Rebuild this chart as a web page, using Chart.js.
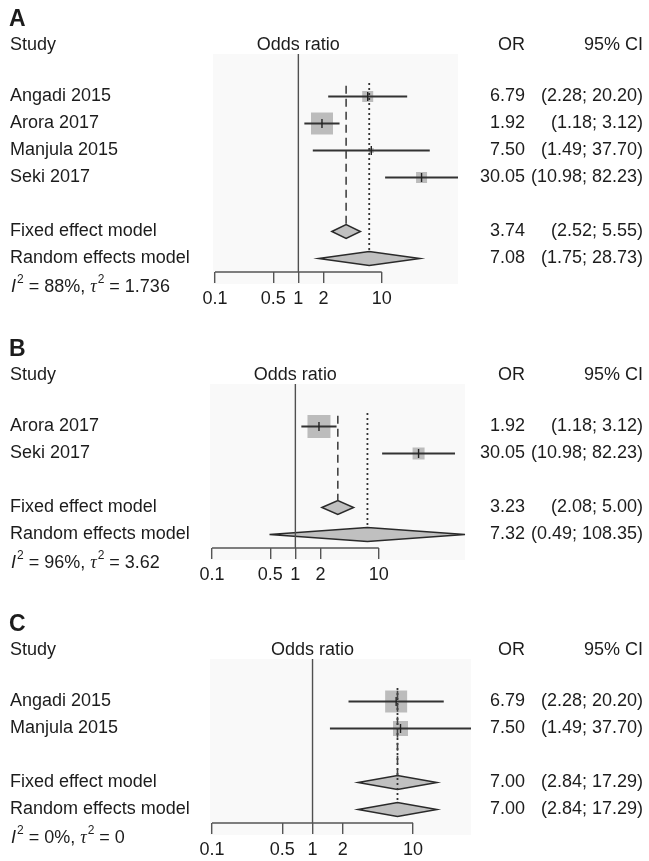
<!DOCTYPE html>
<html>
<head>
<meta charset="utf-8">
<script src="https://cdn.jsdelivr.net/npm/chart.js@4.4.0/dist/chart.umd.min.js"></script>
<style>
    html, body { margin: 0; padding: 0; background: #fff; }
    #wrap { position: relative; width: 649px; height: 861px; overflow: hidden; }
    canvas { position: absolute; left: 0; }
</style>
</head>
<body>
<div id="wrap">
    <canvas id="panelA" width="649" height="325" style="top:0px"></canvas>
    <canvas id="panelB" width="649" height="270" style="top:330px"></canvas>
    <canvas id="panelC" width="649" height="256" style="top:605px"></canvas>
</div>
<script>
// ---- data ----
const modelNames = ["Fixed effect model", "Random effects model"];
const xTicks = [0.1, 0.5, 1, 2, 10];
const xTickLabels = ["0.1", "0.5", "1", "2", "10"];

// panel A
const studiesA = ["Angadi 2015", "Arora 2017", "Manjula 2015", "Seki 2017"];
const orA = [6.79, 1.92, 7.50, 30.05];
const lowerA = [2.28, 1.18, 1.49, 10.98];
const upperA = [20.20, 3.12, 37.70, 82.23];
const pooledA = [3.74, 7.08];          // fixed, random
const pooledLowerA = [2.52, 1.75];
const pooledUpperA = [5.55, 28.73];
const hetA = ["88%", "1.736"];         // I^2, tau^2

// panel B
const studiesB = ["Arora 2017", "Seki 2017"];
const orB = [1.92, 30.05];
const lowerB = [1.18, 10.98];
const upperB = [3.12, 82.23];
const pooledB = [3.23, 7.32];
const pooledLowerB = [2.08, 0.49];
const pooledUpperB = [5.00, 108.35];
const hetB = ["96%", "3.62"];

// panel C
const studiesC = ["Angadi 2015", "Manjula 2015"];
const orC = [6.79, 7.50];
const lowerC = [2.28, 1.49];
const upperC = [20.20, 37.70];
const pooledC = [7.00, 7.00];
const pooledLowerC = [2.84, 2.84];
const pooledUpperC = [17.29, 17.29];
const hetC = ["0%", "0"];

// ---- styles / layout (pixels) ----
const boxA = [11, 22, 5, 11];   // square sides
const boxB = [23, 12];
const boxC = [22, 15];
const FONT = '"Liberation Sans", Arial, sans-serif';
const TEXT = "#1c1c1c";
const ROW0 = 96.5, ROW_H = 27, TOP = 54, AXIS_H = 32;
const DIAMOND_H = 0.26;

function fmt(v) { return v.toFixed(2); }

function makePanel(id, letter, p) {
    const canvas = document.getElementById(id);
    const H = canvas.height;
    const n = p.studies.length;
    const fixedRow = n + 1, randomRow = n + 2;
    const yMin = -(ROW0 - TOP) / ROW_H;
    const yMax = randomRow + 0.5;
    const axisY = ROW0 + yMax * ROW_H;
    const xMax = Math.max(...p.upper, ...p.pooledUpper);
    const pts = p.or.map((v, i) => ({ x: v, y: i }));

    const datasets = [];
    // null effect line
    datasets.push({ data: [{ x: 1, y: yMin }, { x: 1, y: yMax }], showLine: true,
        borderColor: "#505050", borderWidth: 1.4, pointRadius: 0, order: 1, clip: false });
    // fixed effect (dashed) and random effects (dotted) lines
    datasets.push({ data: [{ x: p.pooled[0], y: -0.4 }, { x: p.pooled[0], y: fixedRow - DIAMOND_H }],
        showLine: true, borderColor: "#444", borderWidth: 1.6, borderDash: [8, 5], pointRadius: 0, order: 1 });
    datasets.push({ data: [{ x: p.pooled[1], y: -0.5 }, { x: p.pooled[1], y: randomRow - DIAMOND_H }],
        showLine: true, borderColor: "#333", borderWidth: 1.8, borderDash: [2, 3], pointRadius: 0, order: 1 });
    // confidence intervals
    p.studies.forEach((s, i) => {
        datasets.push({ data: [{ x: p.lower[i], y: i }, { x: p.upper[i], y: i }], showLine: true,
            borderColor: "#333", borderWidth: 1.8, pointRadius: 0, order: 3, clip: false });
    });
    // weighted squares
    datasets.push({ data: pts, pointStyle: "rect", pointRadius: p.box.map(b => b / Math.SQRT2),
        backgroundColor: "#bcbcbc", borderWidth: 0, order: 5, clip: false });
    // point estimate mark
    datasets.push({ data: pts, pointStyle: "line", rotation: 90, pointRadius: 4.5,
        borderColor: "#222", borderWidth: 1.4, order: 2, clip: false });

    const forestPlugin = {
        id: "forest" + letter,
        beforeDraw(chart) {
            const { ctx, chartArea } = chart;
            ctx.save();
            ctx.fillStyle = "#f9f9f9";
            ctx.fillRect(chartArea.left - 2, chartArea.top, chartArea.right - chartArea.left + 2,
                chartArea.bottom - chartArea.top + 12);
            ctx.restore();
        },
        beforeDatasetsDraw(chart) {
            const { ctx } = chart;
            const xs = chart.scales.x, ys = chart.scales.y;
            ctx.save();
            [fixedRow, randomRow].forEach((row, k) => {
                ctx.beginPath();
                ctx.moveTo(xs.getPixelForValue(p.pooledLower[k]), ys.getPixelForValue(row));
                ctx.lineTo(xs.getPixelForValue(p.pooled[k]), ys.getPixelForValue(row - DIAMOND_H));
                ctx.lineTo(xs.getPixelForValue(p.pooledUpper[k]), ys.getPixelForValue(row));
                ctx.lineTo(xs.getPixelForValue(p.pooled[k]), ys.getPixelForValue(row + DIAMOND_H));
                ctx.closePath();
                ctx.fillStyle = "#c0c0c0";
                ctx.fill();
                ctx.lineWidth = 1.5;
                ctx.strokeStyle = "#2a2a2a";
                ctx.stroke();
            });
            ctx.restore();
        },
        afterDraw(chart) {
            const { ctx } = chart;
            const xs = chart.scales.x, ys = chart.scales.y;
            const y = v => ys.getPixelForValue(v);
            ctx.save();
            // axis line from first to last tick
            ctx.strokeStyle = "#555";
            ctx.lineWidth = 1.4;
            ctx.beginPath();
            ctx.moveTo(xs.getPixelForValue(xTicks[0]), chart.chartArea.bottom);
            ctx.lineTo(xs.getPixelForValue(xTicks[xTicks.length - 1]), chart.chartArea.bottom);
            ctx.stroke();

            ctx.fillStyle = TEXT;
            ctx.textBaseline = "middle";
            ctx.font = "bold 23px " + FONT;
            ctx.textAlign = "left";
            ctx.fillText(letter, 9, y(-2.85));

            ctx.font = "18px " + FONT;
            ctx.fillText("Study", 10, y(-1.9));
            ctx.textAlign = "center";
            ctx.fillText("Odds ratio", xs.getPixelForValue(1), y(-1.9));
            ctx.textAlign = "right";
            ctx.fillText("OR", 525, y(-1.9));
            ctx.fillText("95% CI", 643, y(-1.9));

            p.studies.forEach((s, i) => {
                ctx.textAlign = "left";
                ctx.fillText(s, 10, y(i));
                ctx.textAlign = "right";
                ctx.fillText(fmt(p.or[i]), 525, y(i));
                ctx.fillText("(" + fmt(p.lower[i]) + "; " + fmt(p.upper[i]) + ")", 643, y(i));
            });
            modelNames.forEach((m, k) => {
                const row = n + 1 + k;
                ctx.textAlign = "left";
                ctx.fillText(m, 10, y(row));
                ctx.textAlign = "right";
                ctx.fillText(fmt(p.pooled[k]), 525, y(row));
                ctx.fillText("(" + fmt(p.pooledLower[k]) + "; " + fmt(p.pooledUpper[k]) + ")", 643, y(row));
            });

            // heterogeneity line
            ctx.textAlign = "left";
            const hy = y(n + 3.05);
            let cx = 11;
            const part = (txt, font, dy) => {
                ctx.font = font;
                ctx.fillText(txt, cx, hy + (dy || 0));
                cx += ctx.measureText(txt).width;
            };
            part("I", "italic 18px " + FONT);
            cx += 1;
            part("2", "12px " + FONT, -7);
            part(" = " + p.het[0] + ", ", "18px " + FONT);
            part("\u03c4", 'italic 18px "Liberation Serif", serif');
            cx += 1;
            part("2", "12px " + FONT, -7);
            part(" = " + p.het[1], "18px " + FONT);
            ctx.restore();
        }
    };

    return new Chart(canvas.getContext("2d"), {
        type: "scatter",
        data: { datasets: datasets },
        options: {
            responsive: false,
            animation: false,
            events: [],
            layout: { padding: { left: p.left, right: 649 - p.right, top: TOP, bottom: H - axisY - AXIS_H } },
            plugins: { legend: { display: false }, tooltip: { enabled: false } },
            scales: {
                x: {
                    type: "logarithmic",
                    min: 0.1,
                    max: xMax,
                    afterBuildTicks: s => { s.ticks = xTicks.map(v => ({ value: v })); },
                    afterFit: s => { s.height = AXIS_H; },
                    ticks: {
                        autoSkip: false, maxRotation: 0, padding: 5, color: TEXT,
                        font: { family: FONT, size: 18 },
                        callback: (v, i) => xTickLabels[i]
                    },
                    grid: { drawOnChartArea: false, tickLength: 11, color: "#555", lineWidth: 1.4 },
                    border: { display: false }
                },
                y: { type: "linear", display: false, reverse: true, min: yMin, max: yMax }
            }
        },
        plugins: [forestPlugin]
    });
}

makePanel("panelA", "A", { studies: studiesA, or: orA, lower: lowerA, upper: upperA,
    pooled: pooledA, pooledLower: pooledLowerA, pooledUpper: pooledUpperA, het: hetA,
    box: boxA, left: 215, right: 458 });
makePanel("panelB", "B", { studies: studiesB, or: orB, lower: lowerB, upper: upperB,
    pooled: pooledB, pooledLower: pooledLowerB, pooledUpper: pooledUpperB, het: hetB,
    box: boxB, left: 212, right: 465 });
makePanel("panelC", "C", { studies: studiesC, or: orC, lower: lowerC, upper: upperC,
    pooled: pooledC, pooledLower: pooledLowerC, pooledUpper: pooledUpperC, het: hetC,
    box: boxC, left: 212, right: 471 });
</script>
</body>
</html>
